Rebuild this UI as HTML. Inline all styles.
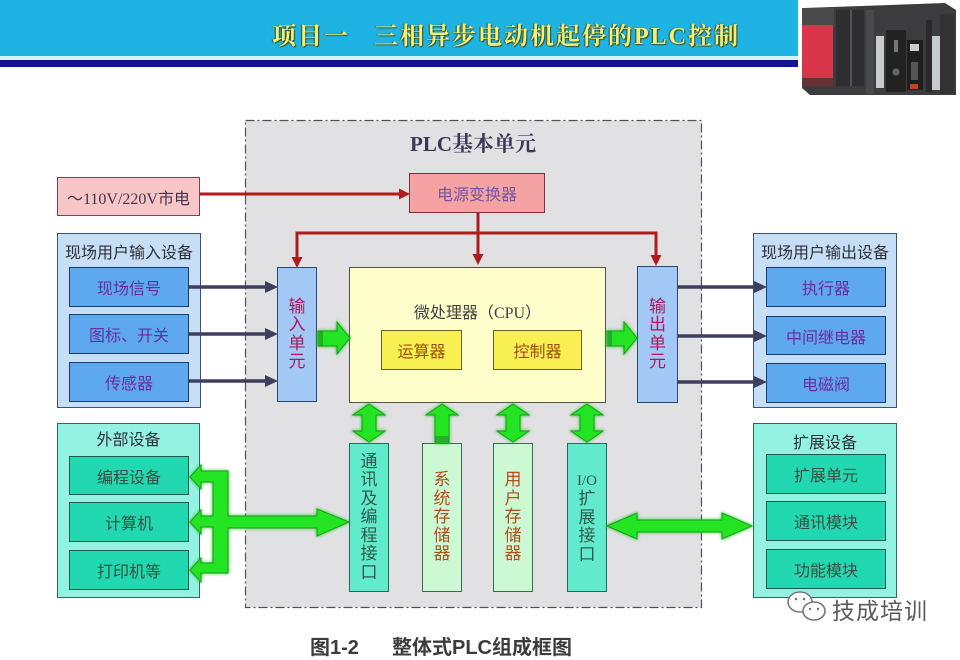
<!DOCTYPE html>
<html><head><meta charset="utf-8">
<style>
*{margin:0;padding:0;box-sizing:border-box}
body{width:960px;height:654px;overflow:hidden;background:#fff;position:relative;font-family:"Liberation Sans","Noto Sans CJK SC",sans-serif}
.a{position:absolute}
.box{position:absolute;display:flex;align-items:center;justify-content:center;text-align:center;white-space:nowrap}
.grp{position:absolute}
.gt{position:absolute;left:0;right:0;text-align:center;font-size:16px;color:#303038;white-space:nowrap}
.vt{position:absolute;display:flex;align-items:center;justify-content:center;text-align:center;font-size:17px;line-height:18.5px}
</style></head><body>

<!-- header -->
<div class="a" style="left:0;top:0;width:798px;height:56px;background:#1fb3e4"></div>
<div class="a" style="left:0;top:56px;width:798px;height:4px;background:#d8f2fb"></div>
<div class="a" style="left:0;top:60px;width:798px;height:7px;background:#14148c"></div>
<div class="a" style="left:272px;top:16px;font-family:'Liberation Serif','Noto Serif CJK SC',serif;font-weight:bold;font-size:24px;letter-spacing:2px;color:#eef27a;text-shadow:1px 1px 1px #3a4a20,-1px 0 1px #3a4a20;white-space:nowrap">项目一&nbsp;&nbsp;&nbsp;三相异步电动机起停的PLC控制</div>

<!-- PLC photo -->
<svg class="a" style="left:790px;top:0" width="170" height="110">
<polygon points="14,8 155,3 166,10 166,95 20,95 12,88" fill="#3c3c3e"/>
<rect x="12" y="8" width="32" height="18" fill="#4a4a4c"/>
<rect x="12" y="25" width="31" height="54" fill="#d8344a"/>
<rect x="12" y="78" width="31" height="8" fill="#6a3038"/>
<rect x="46" y="10" width="28" height="76" fill="#2e2e30"/>
<rect x="60" y="10" width="2" height="76" fill="#555"/>
<rect x="76" y="10" width="8" height="84" fill="#4a4a4c"/>
<rect x="86" y="36" width="8" height="52" fill="#c8cccc"/>
<rect x="96" y="30" width="20" height="62" fill="#222"/>
<rect x="104" y="40" width="4" height="12" fill="#777"/>
<circle cx="106" cy="72" r="3.5" fill="#666"/>
<rect x="117" y="40" width="16" height="50" fill="#1e1e1e"/>
<rect x="120" y="44" width="9" height="7" fill="#ccc"/>
<rect x="121" y="62" width="7" height="18" fill="#555"/>
<rect x="120" y="84" width="8" height="5" fill="#c84020"/>
<rect x="136" y="20" width="6" height="72" fill="#2a2a2a"/>
<rect x="142" y="36" width="8" height="54" fill="#c8cccc"/>
<rect x="150" y="14" width="14" height="80" fill="#333"/>
</svg>

<!-- PLC base unit area -->
<svg class="a" style="left:0;top:0" width="960" height="654">
<rect x="245.5" y="120.5" width="456" height="487" fill="#e1e1e3" stroke="#505058" stroke-width="1.2" stroke-dasharray="9,3,2,3"/>
</svg>
<div class="a" style="left:388px;top:128px;width:170px;text-align:center;font-family:'Liberation Serif','Noto Serif CJK SC',serif;font-weight:bold;font-size:21px;color:#3a3a58;white-space:nowrap">PLC基本单元</div>

<!-- 110V -->
<div class="box" style="left:57px;top:177px;width:143px;height:39px;background:#f7c6c6;border:1.5px solid #804050;font-size:16px;color:#4a3050;font-family:'Liberation Serif','Noto Sans CJK SC',serif">～110V/220V市电</div>

<!-- power converter -->
<div class="box" style="left:409px;top:173px;width:136px;height:40px;background:#f4a2a2;border:1.5px solid #803040;font-size:16px;color:#7454a8">电源变换器</div>

<!-- input group -->
<div class="grp" style="left:57px;top:233px;width:144px;height:175px;background:#c6def6;border:1.5px solid #3a5470">
 <div class="gt" style="top:5px">现场用户输入设备</div>
</div>
<div class="box" style="left:69px;top:267px;width:120px;height:40px;background:#5ea8f0;border:1.5px solid #1c3c68;font-size:16px;color:#6a2e9c">现场信号</div>
<div class="box" style="left:69px;top:314px;width:120px;height:40px;background:#5ea8f0;border:1.5px solid #1c3c68;font-size:16px;color:#6a2e9c">图标、开关</div>
<div class="box" style="left:69px;top:362px;width:120px;height:40px;background:#5ea8f0;border:1.5px solid #1c3c68;font-size:16px;color:#6a2e9c">传感器</div>

<!-- output group -->
<div class="grp" style="left:753px;top:233px;width:144px;height:175px;background:#c6def6;border:1.5px solid #3a5470">
 <div class="gt" style="top:5px">现场用户输出设备</div>
</div>
<div class="box" style="left:766px;top:267px;width:120px;height:40px;background:#5ea8f0;border:1.5px solid #1c3c68;font-size:16px;color:#6a2e9c">执行器</div>
<div class="box" style="left:766px;top:316px;width:120px;height:39px;background:#5ea8f0;border:1.5px solid #1c3c68;font-size:16px;color:#6a2e9c">中间继电器</div>
<div class="box" style="left:766px;top:363px;width:120px;height:40px;background:#5ea8f0;border:1.5px solid #1c3c68;font-size:16px;color:#6a2e9c">电磁阀</div>

<!-- external devices -->
<div class="grp" style="left:57px;top:423px;width:143px;height:175px;background:#94f2e2;border:1.5px solid #2a6a60">
 <div class="gt" style="top:2px">外部设备</div>
</div>
<div class="box" style="left:69px;top:456px;width:120px;height:39px;background:#22d8b0;border:1.5px solid #1a5a48;font-size:16px;color:#3c4c40">编程设备</div>
<div class="box" style="left:69px;top:502px;width:120px;height:40px;background:#22d8b0;border:1.5px solid #1a5a48;font-size:16px;color:#3c4c40">计算机</div>
<div class="box" style="left:69px;top:550px;width:120px;height:40px;background:#22d8b0;border:1.5px solid #1a5a48;font-size:16px;color:#3c4c40">打印机等</div>

<!-- expansion devices -->
<div class="grp" style="left:753px;top:423px;width:144px;height:175px;background:#94f2e2;border:1.5px solid #2a6a60">
 <div class="gt" style="top:5px">扩展设备</div>
</div>
<div class="box" style="left:766px;top:454px;width:120px;height:40px;background:#22d8b0;border:1.5px solid #1a5a48;font-size:16px;color:#3c4c40">扩展单元</div>
<div class="box" style="left:766px;top:501px;width:120px;height:40px;background:#22d8b0;border:1.5px solid #1a5a48;font-size:16px;color:#3c4c40">通讯模块</div>
<div class="box" style="left:766px;top:549px;width:120px;height:40px;background:#22d8b0;border:1.5px solid #1a5a48;font-size:16px;color:#3c4c40">功能模块</div>

<!-- CPU -->
<div class="a" style="left:349px;top:267px;width:257px;height:136px;background:#ffffcc;border:1.5px solid #505050"></div>
<div class="a" style="left:349px;top:299px;width:257px;text-align:center;font-size:16px;color:#404040;white-space:nowrap">微处理器（<span style="font-family:'Liberation Serif',serif">CPU</span>）</div>
<div class="box" style="left:381px;top:330px;width:81px;height:40px;background:#f8f050;border:1.5px solid #706020;font-size:16px;color:#a04a10">运算器</div>
<div class="box" style="left:493px;top:330px;width:89px;height:40px;background:#f8f050;border:1.5px solid #706020;font-size:16px;color:#a04a10">控制器</div>

<!-- input/output units -->
<div class="vt" style="left:277px;top:267px;width:40px;height:135px;background:#a2c8f6;border:1.5px solid #2c4870;color:#b0185a">输<br>入<br>单<br>元</div>
<div class="vt" style="left:637px;top:266px;width:41px;height:137px;background:#a2c8f6;border:1.5px solid #2c4870;color:#b0185a">输<br>出<br>单<br>元</div>

<!-- bottom columns -->
<div class="vt" style="left:349px;top:443px;width:40px;height:149px;background:#62eacc;border:1.5px solid #1e6a5c;color:#2e5a50">通<br>讯<br>及<br>编<br>程<br>接<br>口</div>
<div class="vt" style="left:422px;top:443px;width:40px;height:149px;background:#ccf8d4;border:1.5px solid #3a6a50;color:#b0501a">系<br>统<br>存<br>储<br>器</div>
<div class="vt" style="left:493px;top:443px;width:40px;height:149px;background:#ccf8d4;border:1.5px solid #3a6a50;color:#b0501a">用<br>户<br>存<br>储<br>器</div>
<div class="vt" style="left:567px;top:443px;width:40px;height:149px;background:#62eacc;border:1.5px solid #1e6a5c;color:#2e5a50"><span><span style="font-family:'Liberation Serif',serif;font-size:15px">I/O</span><br>扩<br>展<br>接<br>口</span></div>

<!-- connectors -->
<svg class="a" style="left:0;top:0" width="960" height="654">
<defs>
<filter id="gl" x="-20%" y="-20%" width="140%" height="140%"><feGaussianBlur stdDeviation="1.5" result="b"/><feMerge><feMergeNode in="b"/><feMergeNode in="SourceGraphic"/></feMerge></filter>
</defs>
<g stroke="#b01c1c" stroke-width="3" fill="none">
<polyline points="200,194 400,194"/>
<polyline points="478,213 478,255"/>
<polyline points="297,258 297,233 656,233 656,256"/>
</g>
<g fill="#b01c1c">
<polygon points="410,194 399,188.5 399,199.5"/>
<polygon points="478,265 472.5,254 483.5,254"/>
<polygon points="297,268 291.5,257 302.5,257"/>
<polygon points="656,266 650.5,255 661.5,255"/>
</g>
<g stroke="#3e3e5e" stroke-width="3.5">
<line x1="189" y1="287" x2="268" y2="287"/>
<line x1="189" y1="334" x2="268" y2="334"/>
<line x1="189" y1="381" x2="268" y2="381"/>
<line x1="678" y1="287" x2="757" y2="287"/>
<line x1="678" y1="336" x2="757" y2="336"/>
<line x1="678" y1="382" x2="757" y2="382"/>
</g>
<g fill="#3e3e5e">
<polygon points="278,287 265,281 265,293"/>
<polygon points="278,334 265,328 265,340"/>
<polygon points="278,381 265,375 265,387"/>
<polygon points="767,287 754,281 754,293"/>
<polygon points="767,336 754,330 754,342"/>
<polygon points="767,382 754,376 754,388"/>
</g>
<g fill="#24e424" stroke="#18a018" stroke-width="1" filter="url(#gl)">
<polygon points="318,331 337,331 337,322 350,338 337,354 337,346 318,346"/>
<polygon points="607,331 624,331 624,322 637,338 624,354 624,346 607,346"/>
<polygon points="369,404 385,415 376,415 376,431 385,431 369,442 353,431 362,431 362,415 353,415"/>
<polygon points="442,404 458,415 449,415 449,443 435,443 435,415 426,415"/>
<polygon points="513,404 529,415 520,415 520,431 529,431 513,442 497,431 506,431 506,415 497,415"/>
<polygon points="587,404 603,415 594,415 594,431 603,431 587,442 571,431 580,431 580,415 571,415"/>
<polygon points="190,477 201,465 201,471 228,471 228,516 317,516 317,509 349,522 317,536 317,528 228,528 228,573 201,573 201,582 190,570 201,558 201,563 213,563 213,527 201,527 201,534 190,522 201,510 201,516 213,516 213,482 201,482 201,489"/>
<polygon points="607,526 637,513 637,520 722,520 722,513 752,526 722,539 722,532 637,532 637,539"/>
</g>
<rect x="435" y="436" width="14" height="6" fill="#2a8a3a" opacity="0.6"/>
<rect x="319" y="331" width="4" height="15" fill="#1a7a2a" opacity="0.5"/>
<rect x="608" y="331" width="4" height="15" fill="#1a7a2a" opacity="0.5"/>
<g fill="#fff" stroke="#777" stroke-width="1.6">
<ellipse cx="800" cy="602" rx="12" ry="10"/>
<ellipse cx="814" cy="611" rx="11" ry="9"/>
</g>
<g fill="#777">
<circle cx="796" cy="599" r="1.3"/><circle cx="804" cy="599" r="1.3"/>
<circle cx="810" cy="609" r="1.2"/><circle cx="818" cy="609" r="1.2"/>
</g>
</svg>

<div class="a" style="left:832px;top:592px;font-size:23px;color:#5a5a5a;white-space:nowrap;letter-spacing:1px">技成培训</div>

<!-- caption -->
<div class="a" style="left:310px;top:631px;font-size:20px;font-weight:bold;color:#3c3c3c;white-space:nowrap">图1-2</div>
<div class="a" style="left:392px;top:631px;font-size:20px;font-weight:bold;color:#3c3c3c;white-space:nowrap">整体式PLC组成框图</div>

</body></html>
